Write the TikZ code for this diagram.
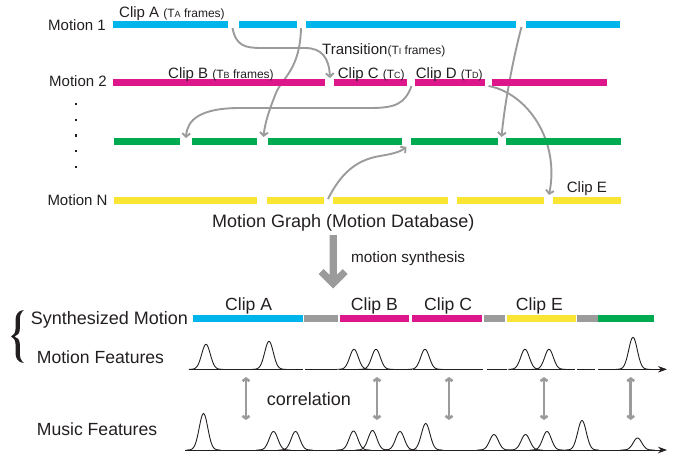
\documentclass[tikz,border=0pt]{standalone}
\usepackage{fontspec}
\setmainfont{Liberation Sans}
\usetikzlibrary{arrows.meta}

\definecolor{clipcyan}{RGB}{0,181,236}
\definecolor{clipmag}{RGB}{222,22,140}
\definecolor{clipgreen}{RGB}{0,170,80}
\definecolor{clipyellow}{RGB}{250,228,52}
\definecolor{linkgray}{RGB}{155,155,155}
\definecolor{ink}{RGB}{35,31,32}

\newcommand{\setfs}[1]{\fontsize{#1}{#1}\selectfont}
\newcommand{\smallidx}[1]{{\setfs{9}#1}}

% one Gaussian bump: baseline y, centre x, height, width
\newcommand{\bump}[4]{%
  \pgfmathsetmacro{\bumplo}{#2-4*#4}%
  \pgfmathsetmacro{\bumphi}{#2+4*#4}%
  \draw[peakline] plot[domain=\bumplo:\bumphi, samples=45, smooth]
    (\x, {#1-#3*exp(-((\x-#2)*(\x-#2))/(2*#4*#4))});}

\begin{document}
\begin{tikzpicture}[x=1pt, y=-1pt,
  bar/.style={line width=6.6pt},
  synbar/.style={line width=7.2pt},
  link/.style={draw=linkgray, line width=1.9pt,
    -{Straight Barb[length=3.5pt,width=8pt]}},
  corr/.style={draw=linkgray, line width=2.6pt,
    {Straight Barb[length=2.5pt,width=7pt]}-{Straight Barb[length=2.5pt,width=7pt]}},
  axis/.style={draw=ink, line width=0.9pt},
  peakline/.style={draw=ink, line width=0.9pt},
  lbl/.style={inner sep=0pt, anchor=base west, text=ink, font=\setfs{15}},
  biglbl/.style={inner sep=0pt, anchor=base west, text=ink, font=\setfs{17.6}},
]
\useasboundingbox (0,0) rectangle (683,460);

% ---------- motion graph: transitions (drawn below the bars) ----------
\coordinate (t1s) at (232.5,28);  \coordinate (t1e) at (330,78);
\coordinate (t2s) at (301,28);    \coordinate (t2e) at (263.5,137);
\coordinate (t3s) at (411.5,86);  \coordinate (t3e) at (186,138);
\coordinate (t4s) at (521.5,27);  \coordinate (t4e) at (501.5,137);
\coordinate (t5s) at (488.5,86);  \coordinate (t5e) at (549,195);
\coordinate (t6s) at (328,199);   \coordinate (t6e) at (406.5,147);

\draw[link] (t1s) .. controls (236,46) and (245,48) .. (262,48) -- (305,48)
            .. controls (322,48) and (329,58) .. (t1e);
\draw[link] (t2s) .. controls (300,70) and (282,78) .. (276,93)
            .. controls (270,108) and (265,122) .. (t2e);
\draw[link] (t3s) .. controls (405,104) and (395,108) .. (370,108) -- (240,108)
            .. controls (200,108) and (187,120) .. (t3e);
\draw[link] (t4s) .. controls (514,55) and (505,100) .. (t4e);
\draw[link] (t5s) .. controls (527,93) and (560,140) .. (t5e);
\draw[link] (t6s) .. controls (340,175) and (355,160) .. (380,156)
            .. controls (392,154) and (400,152) .. (t6e);

% ---------- motion graph: clips ----------
\draw[bar, clipcyan] (113,24.3) -- (228,24.3);
\draw[bar, clipcyan] (239,24.3) -- (297,24.3);
\draw[bar, clipcyan] (306,24.3) -- (515.7,24.3);
\draw[bar, clipcyan] (526,24.3) -- (620,24.3);

\draw[bar, clipmag] (113,82.3) -- (325,82.3);
\draw[bar, clipmag] (334,82.3) -- (406.7,82.3);
\draw[bar, clipmag] (415,82.3) -- (485,82.3);
\draw[bar, clipmag] (492,82.3) -- (606.7,82.3);

\draw[bar, clipgreen] (114,141.4) -- (180,141.4);
\draw[bar, clipgreen] (192,141.4) -- (257,141.4);
\draw[bar, clipgreen] (268,141.4) -- (402,141.4);
\draw[bar, clipgreen] (411,141.4) -- (498,141.4);
\draw[bar, clipgreen] (506,141.4) -- (621,141.4);

\draw[bar, clipyellow] (114,200.4) -- (257,200.4);
\draw[bar, clipyellow] (267,200.4) -- (324,200.4);
\draw[bar, clipyellow] (333,200.4) -- (447.7,200.4);
\draw[bar, clipyellow] (457,200.4) -- (543.7,200.4);
\draw[bar, clipyellow] (553,200.4) -- (621,200.4);

% vertical ellipsis
\foreach \yy in {104,120,135.5,151,167}
  \fill[ink] (74.8,\yy-1.2) rectangle (77.2,\yy+1.2);

% ---------- motion graph: labels ----------
\node[lbl] (m1) at (48,30.5) {Motion 1};
\node[lbl] (m2) at (49,86) {Motion 2};
\node[lbl] (mn) at (47.3,205) {Motion N};
\node[lbl] (clipa) at (119,17.5) {Clip A {\setfs{12}(T\smallidx{A} frames)}};
\node[lbl] (clipb) at (168,78) {Clip B {\setfs{12}(T\smallidx{B} frames)}};
\node[lbl] (trans) at (322,55) {Transition{\setfs{12}(T\smallidx{I} frames)}};
\node[lbl] (clipc) at (337.7,78) {Clip C {\setfs{12}(T\smallidx{C})}};
\node[lbl] (clipd) at (415.7,78) {Clip D {\setfs{12}(T\smallidx{D})}};
\node[lbl] (clipe) at (566.7,192.3) {Clip E};
\node[inner sep=0pt, anchor=base west, text=ink, font=\setfs{18}] (mg) at (212,227)
  {Motion Graph (Motion Database)};

% ---------- synthesis arrow ----------
\fill[linkgray] (329.55,235) -- (336.85,235) -- (336.85,274.85) -- (342.75,269.05)
  -- (347.7,274) -- (333.2,288.5) -- (318.7,274) -- (323.65,269.05)
  -- (329.55,274.85) -- cycle;
\node[lbl, font=\setfs{15.3}] (synth) at (351,262.3) {motion synthesis};

% ---------- synthesized motion ----------
\draw[synbar, clipcyan]   (193.3,318.7) -- (302.7,318.7);
\draw[synbar, linkgray]   (304,318.7) -- (337.7,318.7);
\draw[synbar, clipmag]    (339.7,318.7) -- (409,318.7);
\draw[synbar, clipmag]    (412,318.7) -- (482,318.7);
\draw[synbar, linkgray]   (484,318.7) -- (505,318.7);
\draw[synbar, clipyellow] (507,318.7) -- (575.7,318.7);
\draw[synbar, linkgray]   (577,318.7) -- (598,318.7);
\draw[synbar, clipgreen]  (598,318.7) -- (654,318.7);

\node[biglbl] (sa) at (225,310) {Clip A};
\node[biglbl] (sb) at (350.7,310) {Clip B};
\node[biglbl] (sc) at (424,310) {Clip C};
\node[biglbl] (se) at (515.7,310) {Clip E};

% brace grouping the two motion rows: thin ends, heavy arms
\fill[ink]
  (24,310) .. controls (17,311) and (15.5,315) .. (15.5,321) -- (15.5,329)
  .. controls (15.5,333) and (13.5,335.5) .. (11,336.5)
  .. controls (13.5,337.5) and (15.5,340) .. (15.5,344) -- (15.5,352)
  .. controls (15.5,358) and (17,362) .. (24,363)
  .. controls (20.5,360.5) and (19.8,357) .. (19.8,352) -- (19.8,344)
  .. controls (19.8,339.5) and (17.5,337.5) .. (14.5,336.5)
  .. controls (17.5,335.5) and (19.8,333.5) .. (19.8,329) -- (19.8,321)
  .. controls (19.8,316) and (20.5,312.5) .. (24,310) -- cycle;

\node[inner sep=0pt, anchor=base west, text=ink, font=\setfs{18}] (synlbl) at (30.7,324)
  {Synthesized Motion};
\node[biglbl] (mf) at (36.7,363) {Motion Features};
\node[biglbl] (muf) at (36.7,435) {Music Features};
\node[inner sep=0pt, anchor=base west, text=ink, font=\setfs{18}] (corrlbl) at (266.7,405)
  {correlation};

% ---------- feature curves ----------
\coordinate (mfa) at (189,369.3);  \coordinate (mfb) at (667,369.3);
\coordinate (mua) at (185,450);    \coordinate (mub) at (667,450);

\draw[axis] (mfa) -- (303.3,369.3);
\draw[axis] (305.3,369.3) -- (336.7,369.3);
\draw[axis] (339.3,369.3) -- (411.7,369.3);
\draw[axis] (413.3,369.3) -- (483.3,369.3);
\draw[axis] (486.7,369.3) -- (506.7,369.3);
\draw[axis] (509.3,369.3) -- (575,369.3);
\draw[axis] (577.3,369.3) -- (595,369.3);
\draw[axis, -{Stealth[length=9pt,width=6.5pt]}] (598.3,369.3) -- (mfb);

\draw[axis, -{Stealth[length=9pt,width=6.5pt]}] (mua) -- (mub);

\foreach \c/\h in {206/25, 269/28, 354/20, 376/20, 425/20, 525/20, 549/20, 633/32}
  {\bump{369.3}{\c}{\h}{4.3}}

\foreach \c/\h in {203.5/36.5, 273.5/18.5, 295.5/18.5, 353.5/19, 372.5/19.5,
                   400/18.5, 425.7/26.5, 494/15.5, 525.5/15.5, 547/18.5,
                   582/29.5, 637.5/12}
  {\bump{450}{\c}{\h}{4.3}}

% ---------- correlation arrows ----------
\foreach \xx [count=\i] in {246,377,449,544,630.7} {
  \coordinate (ca\i) at (\xx,377);
  \coordinate (cb\i) at (\xx,420);
  \draw[corr] (ca\i) -- (cb\i);
}
\end{tikzpicture}
\end{document}
